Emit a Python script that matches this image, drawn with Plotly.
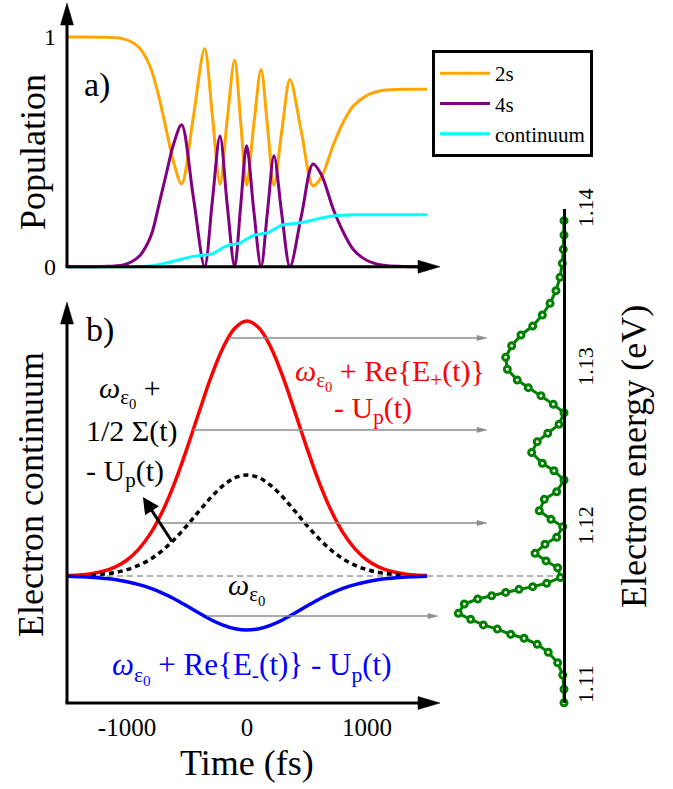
import plotly.graph_objects as go

W, H = 673, 789
FONT = "Liberation Serif"

# ---------------- panel a) populations ----------------
t_pop = [-1500, -1200, -1030, -950, -890, -830, -790, -725, -670, -614, -545, -449, -353, -289,
         -225, -164, -103, -53, -3, 57, 117, 171, 225, 291, 358, 454, 550, 620, 719, 803, 886,
         997, 1136, 1300, 1500]
pop_2s = [1.0, 0.999, 0.992, 0.975, 0.949, 0.898, 0.846, 0.72, 0.59, 0.46, 0.36, 0.645, 0.95, 0.66,
          0.36, 0.645, 0.90, 0.633, 0.355, 0.62, 0.858, 0.61, 0.355, 0.595, 0.815, 0.585, 0.352,
          0.39, 0.53, 0.63, 0.70, 0.745, 0.768, 0.772, 0.773]
pop_4s = [0, 0.001, 0.008, 0.025, 0.05, 0.10, 0.15, 0.29, 0.41, 0.53, 0.618, 0.31, 0.0, 0.285,
          0.569, 0.264, 0.0, 0.263, 0.527, 0.242, 0.0, 0.242, 0.483, 0.224, 0.0, 0.224, 0.447,
          0.40, 0.25, 0.15, 0.075, 0.028, 0.006, 0.001, 0]
pop_cont = [0, 0, 0, 0, 0.001, 0.002, 0.004, 0.010, 0.016, 0.024, 0.033, 0.045, 0.051, 0.056,
            0.075, 0.092, 0.098, 0.104, 0.12, 0.137, 0.143, 0.148, 0.163, 0.181, 0.186, 0.192,
            0.203, 0.212, 0.221, 0.224, 0.226, 0.226, 0.226, 0.226, 0.226]
pop_names = ["2s", "4s", "continuum"]
pop_ticks = [0, 1]

# ---------------- panel b) electron continuum (energy, eV) ----------------
t_b = [-1500, -1400, -1300, -1200, -1100, -1000, -900, -800, -700, -600, -500, -400, -300, -200,
       -100, 0, 100, 200, 300, 400, 500, 600, 700, 800, 900, 1000, 1100, 1200, 1300, 1400, 1500]
e_plus = [1.11705, 1.11709, 1.11717, 1.11732, 1.11758, 1.11803, 1.11873, 1.11975, 1.12116, 1.12295,
          1.12506, 1.12733, 1.12954, 1.13140, 1.13264, 1.13308, 1.13264, 1.13140, 1.12954, 1.12733,
          1.12506, 1.12295, 1.12116, 1.11975, 1.11873, 1.11803, 1.11758, 1.11732, 1.11717, 1.11709,
          1.11705]
e_sigma = [1.11703, 1.11705, 1.11708, 1.11714, 1.11724, 1.11742, 1.11770, 1.11810, 1.11866, 1.11937,
           1.12020, 1.12110, 1.12198, 1.12271, 1.12321, 1.12338, 1.12321, 1.12271, 1.12198, 1.12110,
           1.12020, 1.11937, 1.11866, 1.11810, 1.11770, 1.11742, 1.11724, 1.11714, 1.11708, 1.11705,
           1.11703]
e_minus = [1.11700, 1.11698, 1.11695, 1.11688, 1.11680, 1.11666, 1.11648, 1.11624, 1.11593, 1.11556,
           1.11513, 1.11469, 1.11427, 1.11393, 1.11370, 1.11362, 1.11370, 1.11393, 1.11427, 1.11469,
           1.11513, 1.11556, 1.11593, 1.11624, 1.11648, 1.11666, 1.11680, 1.11688, 1.11695, 1.11698,
           1.11700]
omega0 = 1.11702
time_ticks = [-1000, 0, 1000]

# gray mapping arrows: energy level, tail time, head time
arrow_E = [1.13201, 1.12622, 1.12036, 1.11450]
arrow_t0 = [-150, -450, -725, -333]
arrow_t1 = [2000, 2000, 2000, 1592]
# black pointer arrow (tail on dotted curve -> head at label)
pointer_tail = (-617, 1.11910)
pointer_head = (-867, 1.12200)

# ---------------- right panel: spectrum ----------------
spec_E = [1.13940, 1.13849, 1.13759, 1.13671, 1.13583, 1.13499, 1.13419, 1.13346, 1.13276, 1.13220,
          1.13152, 1.13079, 1.13004, 1.12936, 1.12888, 1.12838, 1.12783, 1.12730, 1.12657, 1.12601,
          1.12548, 1.12480, 1.12412, 1.12365, 1.12307, 1.12233, 1.12185, 1.12113, 1.12059, 1.12013,
          1.11946, 1.11902, 1.11845, 1.11797, 1.11754, 1.11693, 1.11656, 1.11635, 1.11618, 1.11599,
          1.11578, 1.11557, 1.11526, 1.11467, 1.11429, 1.11394, 1.11368, 1.11335, 1.11310, 1.11272,
          1.11222, 1.11156, 1.11079, 1.10989, 1.10904]
spec_I = [0, 0, 0.007, 0.016, 0.038, 0.076, 0.132, 0.205, 0.296, 0.407,
          0.495, 0.552, 0.536, 0.442, 0.338, 0.218, 0.101, 0, 0.047, 0.154,
          0.253, 0.306, 0.205, 0.095, 0, 0.069, 0.186, 0.234, 0.123, 0.012,
          0.069, 0.180, 0.274, 0.170, 0.060, 0.033, 0.164, 0.296, 0.426, 0.552,
          0.684, 0.816, 0.943, 1.0, 0.883, 0.763, 0.631, 0.504, 0.378, 0.253,
          0.149, 0.060, 0.012, 0, 0]
energy_ticks = [1.11, 1.12, 1.13, 1.14]

# ---------------- layout helpers (pixel -> paper) ----------------
def px(x):
    return x / W


def py(y):
    return 1 - y / H


X_LEFT, X_RIGHT = 67, 487          # pixel extent of the time axes
A_TOP, A_BOT = 30, 273             # panel a
B_TOP, B_BOT = 300, 703            # panel b
S_LEFT, S_RIGHT = 430, 600         # spectrum x extent
S_TOP = 209
AXIS_X = 564                       # energy axis position

fig = go.Figure()

colors_a = ["#FFA500", "#800080", "#00FFFF"]
for name, vals, col in zip(pop_names, [pop_2s, pop_4s, pop_cont], colors_a):
    fig.add_trace(go.Scatter(x=t_pop, y=vals, name=name, mode="lines",
                             line=dict(color=col, width=3, shape="spline", smoothing=0.9),
                             xaxis="x", yaxis="y"))

fig.add_trace(go.Scatter(x=t_b, y=e_plus, mode="lines", showlegend=False,
                         line=dict(color="#FF0000", width=3.5, shape="spline"),
                         xaxis="x2", yaxis="y2"))
fig.add_trace(go.Scatter(x=t_b[2:-2], y=e_sigma[2:-2], mode="lines", showlegend=False,
                         line=dict(color="black", width=3.5, dash="5px,4px", shape="spline"),
                         xaxis="x2", yaxis="y2"))
fig.add_trace(go.Scatter(x=t_b, y=e_minus, mode="lines", showlegend=False,
                         line=dict(color="#0000FF", width=3.5, shape="spline"),
                         xaxis="x2", yaxis="y2"))

fig.add_trace(go.Scatter(x=spec_I, y=spec_E, mode="lines+markers", showlegend=False,
                         line=dict(color="#008000", width=3),
                         marker=dict(symbol="circle", size=6, color="white",
                                     line=dict(color="#008000", width=3)),
                         cliponaxis=False, xaxis="x3", yaxis="y3"))

# ranges derived from pixel layout
a_scale = 229.7
a_zero = 266.7
e_scale = 15880.0
e_ref_px = 687.5
e_ref = 1.11
i_scale = 105.7


def e_at(pix):
    return e_ref + (e_ref_px - pix) / e_scale


noline = dict(showgrid=False, zeroline=False, showline=False, automargin=False)
fig.update_layout(
    template="none",
    width=W, height=H, autosize=False,
    margin=dict(l=0, r=0, t=0, b=0, pad=0, autoexpand=False),
    paper_bgcolor="white", plot_bgcolor="rgba(0,0,0,0)",
    font=dict(family=FONT, color="black"),
    xaxis=dict(domain=[px(X_LEFT), px(X_RIGHT)], range=[-1500, 2000], showticklabels=False,
               ticks="", anchor="y", **noline),
    yaxis=dict(domain=[py(A_BOT), py(A_TOP)],
               range=[(a_zero - A_BOT) / a_scale, (a_zero - A_TOP) / a_scale],
               tickvals=pop_ticks, ticktext=[str(v) for v in pop_ticks], ticks="",
               tickfont=dict(size=24, family=FONT), ticklabelstandoff=10, anchor="x", **noline),
    xaxis2=dict(domain=[px(X_LEFT), px(X_RIGHT)], range=[-1500, 2000], tickvals=time_ticks,
                ticktext=[str(v) for v in time_ticks], ticks="",
                tickfont=dict(size=25, family=FONT), ticklabelstandoff=7, anchor="y2", **noline),
    yaxis2=dict(domain=[py(B_BOT), py(B_TOP)], range=[e_at(B_BOT), e_at(B_TOP)],
                showticklabels=False, ticks="", anchor="x2", **noline),
    xaxis3=dict(domain=[px(S_LEFT), px(S_RIGHT)],
                range=[(AXIS_X - S_LEFT) / i_scale, (AXIS_X - S_RIGHT) / i_scale],
                visible=False, anchor="y3", automargin=False),
    yaxis3=dict(domain=[py(B_BOT), py(S_TOP)], range=[e_at(B_BOT), e_at(S_TOP)],
                anchor="free", position=px(AXIS_X), side="right", automargin=False,
                showline=True, linewidth=3, linecolor="black", showgrid=False, zeroline=False,
                tickvals=energy_ticks, ticktext=["%.2f" % v for v in energy_ticks], ticks="",
                tickangle=-90, tickfont=dict(size=22, family=FONT), ticklabelstandoff=1),
    legend=dict(x=px(432), y=py(50), xanchor="left", yanchor="top",
                bordercolor="black", borderwidth=3, bgcolor="white", itemwidth=50,
                font=dict(size=21, family=FONT), tracegroupgap=0),
)

shapes = []


def axis_arrow(x0, y0, x1, y1, head=22, half=6.5, lw=3):
    dx, dy = x1 - x0, y1 - y0
    n = (dx * dx + dy * dy) ** 0.5
    ux, uy = dx / n, dy / n
    bx, by = x1 - head * ux, y1 - head * uy
    shapes.append(dict(type="line", xref="paper", yref="paper",
                       x0=px(x0), y0=py(y0), x1=px(bx + 2 * ux), y1=py(by + 2 * uy),
                       line=dict(color="black", width=lw)))
    p1 = (bx - half * uy, by + half * ux)
    p2 = (bx + half * uy, by - half * ux)
    path = "M %.5f,%.5f L %.5f,%.5f L %.5f,%.5f Z" % (px(x1), py(y1), px(p1[0]), py(p1[1]),
                                                        px(p2[0]), py(p2[1]))
    shapes.append(dict(type="path", xref="paper", yref="paper", path=path,
                       fillcolor="black", line=dict(color="black", width=0.5)))


axis_arrow(X_LEFT, a_zero, X_LEFT, 3)
axis_arrow(X_LEFT - 1.5, a_zero, 440, a_zero)
axis_arrow(X_LEFT, B_BOT, X_LEFT, 302)
axis_arrow(X_LEFT - 1.5, B_BOT, 440, B_BOT)

# dashed omega_0 line across to the energy axis
shapes.append(dict(type="line", xref="paper", yref="y2", x0=px(X_LEFT), x1=px(AXIS_X),
                   y0=omega0, y1=omega0, layer="below",
                   line=dict(color="#999999", width=1.5, dash="6px,4px")))

# gray mapping arrows (in data coordinates of panel b)
head_t = 10 / 0.12
head_e = 2.6 / e_scale
for E, t0, t1 in zip(arrow_E, arrow_t0, arrow_t1):
    shapes.append(dict(type="line", xref="x2", yref="y2", x0=t0, x1=t1 - head_t + 5,
                       y0=E, y1=E, line=dict(color="#8c8c8c", width=1.5)))
    shapes.append(dict(type="path", xref="x2", yref="y2",
                       path="M %.3f,%.6f L %.3f,%.6f L %.3f,%.6f Z" % (
                           t1, E, t1 - head_t, E + head_e, t1 - head_t, E - head_e),
                       fillcolor="#8c8c8c", line=dict(color="#8c8c8c", width=0.5)))

fig.update_layout(shapes=shapes)

ann = []


def label(x, y, text, size, color="black", angle=0):
    ann.append(dict(x=px(x), y=py(y), xref="paper", yref="paper", text=text, showarrow=False,
                    textangle=angle, xanchor="center", yanchor="middle",
                    font=dict(size=size, color=color, family=FONT)))


W0 = "<i>ω</i><sub>ε<sub>0</sub></sub>"
label(97, 85, "a)", 34)
label(100, 330, "b)", 34)
label(33, 152, "Population", 36, angle=-90)
label(31, 495, "Electron continuum", 36, angle=-90)
label(247, 763, "Time (fs)", 36)
label(634, 457, "Electron energy (eV)", 36, angle=-90)
label(130, 391, W0 + " +", 30)
label(132, 431, "1/2 Σ(t)", 30)
label(125, 473, "- U<sub>p</sub>(t)", 30)
label(247, 588, W0, 30)
label(390, 375, W0 + " + Re{E<sub>+</sub>(t)}", 30, color="#FF0000")
label(373, 410, "- U<sub>p</sub>(t)", 30, color="#FF0000")
label(252, 668, W0 + " + Re{E<sub>-</sub>(t)} - U<sub>p</sub>(t)", 31, color="#0000FF")

ann.append(dict(x=pointer_head[0], y=pointer_head[1], ax=pointer_tail[0], ay=pointer_tail[1],
                xref="x2", yref="y2", axref="x2", ayref="y2", text="", showarrow=True,
                arrowhead=2, arrowsize=1.1, arrowwidth=3, arrowcolor="black", standoff=0))

fig.update_layout(annotations=ann)

fig.write_html("out.html", config={"displayModeBar": False},
               post_script="document.body.style.margin='0px';")
